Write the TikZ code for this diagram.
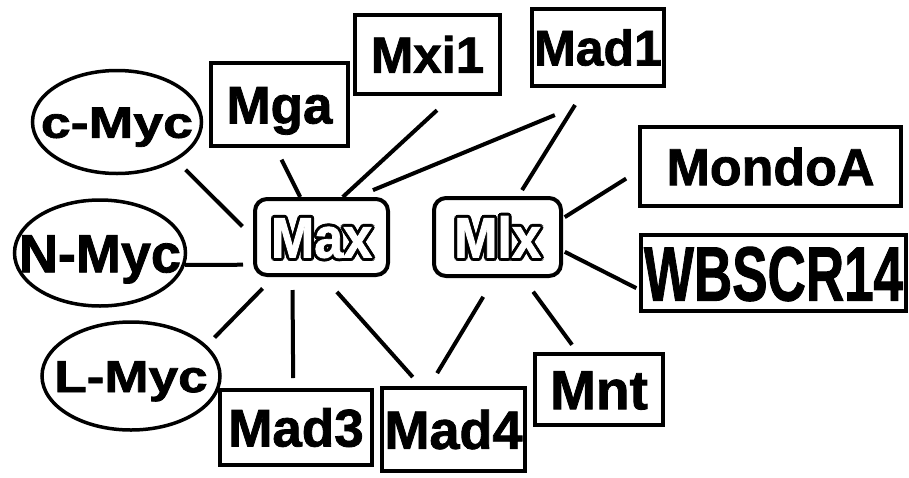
\documentclass[tikz,border=0pt]{standalone}
\usepackage{fontspec}
\setmainfont{Liberation Sans}[BoldFeatures={FakeBold=1.5}]
\usepackage{graphicx}
\usetikzlibrary{shapes.geometric}

\newsavebox\hollowbox
\newcommand\hollow[1]{%
  \sbox\hollowbox{\color{black}#1}%
  \foreach \a in {0,30,...,330}{%
    \pgfmathsetlengthmacro\hdx{3pt*cos(\a)}%
    \pgfmathsetlengthmacro\hdy{3pt*sin(\a)}%
    \rlap{\kern\hdx\raise\hdy\hbox{\usebox\hollowbox}}}%
  \textcolor{white}{#1}}
% name inside an ellipse: no width, cap height centred
\newcommand\mycname[1]{\makebox[0pt]{\raisebox{-0.358em}[0pt][0pt]{#1}}}

\tikzset{
  gene/.style={draw, line width=4pt, inner sep=0pt, text depth=0pt,
    font=\bfseries\fontsize{#1}{#1}\selectfont, text height=0.716*#1},
  gene/.default=52,
  myc/.style={gene=#1, ellipse, line width=3.5pt, text height=0pt},
  myc/.default=52,
  hub/.style={gene=#1, rounded corners=12pt, text height=0.79*#1},
  hub/.default=52,
  link/.style={line width=4pt},
}

\begin{document}
\begin{tikzpicture}[x=1pt, y=-1pt]
  \useasboundingbox (0,0) rectangle (909,477);

  % partners on the left
  \node[myc=44, minimum width=169pt, minimum height=103pt] (cmyc) at (117,122) {\mycname{\scalebox{1.22}[1]{c-Myc}}};
  \node[myc=54, minimum width=171pt, minimum height=106pt] (nmyc) at (100,253) {\mycname{N-Myc}};
  \node[myc=45, minimum width=178pt, minimum height=108pt] (lmyc) at (131,376) {\mycname{\scalebox{1.18}[1]{L-Myc}}};

  % boxed partners
  \node[gene=53, minimum width=137pt, minimum height=83pt] (mga) at (279.5,104.5) {Mga};
  \node[gene=51, minimum width=145pt, minimum height=79pt] (mxi) at (427.5,54.5) {Mxi1};
  \node[gene=50, minimum width=132pt, minimum height=77pt] (madone) at (598,47.5) {Mad1};
  \node[gene=52, minimum width=261pt, minimum height=79pt] (mondoa) at (770.5,166.5) {MondoA\hspace{14pt}};
  \node[gene=53, minimum width=265pt, minimum height=76pt, text height=55pt] (wbscr) at (773.5,273) {\scalebox{1}[1.45]{WBSCR14}};
  \node[gene=55, minimum width=128pt, minimum height=71pt] (mnt) at (599,389.5) {Mnt\hspace{14pt}};
  \node[gene=54, minimum width=143pt, minimum height=83pt] (madfour) at (453.5,429.5) {Mad4};
  \node[gene=53, minimum width=152pt, minimum height=75pt] (madthree) at (296,427.5) {Mad3};

  % the two hubs
  \node[hub, minimum width=133pt, minimum height=76pt] (max) at (321.5,237) {\hollow{\scalebox{1}[1.1]{Max}}};
  \node[hub, minimum width=127pt, minimum height=78pt] (mlx) at (497.5,237) {\hollow{\scalebox{1}[1.1]{Mlx}}};

  % links
  \draw[link, shorten <=13pt, shorten >=15pt] (cmyc.-33) -- (max.180);
  \draw[link, shorten >=10pt] (nmyc.-8) -- (max.202);
  \draw[link, shorten <=11pt, shorten >=16pt] (lmyc.22) -- (max.220);
  \draw[link, shorten <=13pt] (mga.265) -- (max.118);
  \draw[link, shorten <=21pt] (mxi.-59) -- (max.62);
  \draw[link, shorten <=71pt, shorten >=18pt] (madone.-61) -- (max.49);
  \draw[link, shorten <=20pt, shorten >=7pt] (madone.-107) -- (mlx.63);
  \draw[link, shorten <=2pt, shorten >=14pt] (mlx.16) -- (mondoa.182);
  \draw[link, shorten <=2pt, shorten >=3pt] (mlx.-12) -- (wbscr.187);
  \draw[link, shorten <=13pt, shorten >=10pt] (max.234) -- (madthree.94);
  \draw[link, shorten <=20pt, shorten >=12pt] (max.-87) -- (madfour.127);
  \draw[link, shorten <=22pt, shorten >=15pt] (mlx.-94) -- (madfour.119);
  \draw[link, shorten <=17pt, shorten >=9pt] (mlx.-58) -- (mnt.120);
\end{tikzpicture}
\end{document}
